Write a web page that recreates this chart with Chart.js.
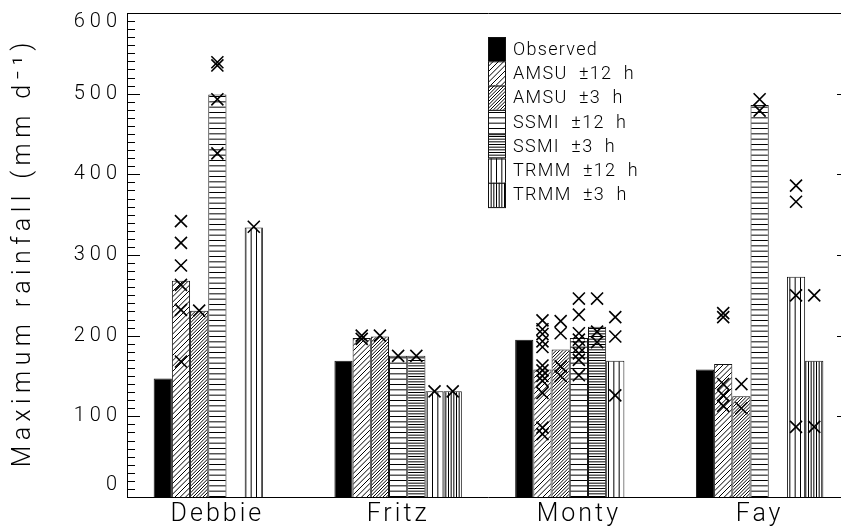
<!DOCTYPE html>
<html>
<head>
<meta charset="utf-8">
<script src="https://cdn.jsdelivr.net/npm/chart.js@4.4.0/dist/chart.umd.min.js"></script>
<style>
  html, body { margin: 0; padding: 0; background: #fff; overflow: hidden; }
  #wrap { width: 841px; height: 529px; overflow: hidden; position: relative; }
  #c { position: absolute; left: 0; top: 0; }
</style>
</head>
<body>
<div id="wrap"><canvas id="c" width="852" height="529"></canvas></div>
<script>
// Storms and the maximum daily rainfall from each source (mm/day)
const storms = ['Debbie', 'Fritz', 'Monty', 'Fay'];
const seriesNames = ['Observed', 'AMSU  \u00b112  h', 'AMSU  \u00b13  h', 'SSMI  \u00b112  h',
                     'SSMI  \u00b13  h', 'TRMM  \u00b112  h', 'TRMM  \u00b13  h'];
const observed = [147, 169, 195, 158];
const amsu12   = [268, 197, 158, 165];
const amsu3    = [231, 199, 183, 125];
const ssmi12   = [499, 175, 197, 486];
const ssmi3    = [null, 175, 211, null];
const trmm12   = [334, 131, 169, 273];
const trmm3    = [null, 131, null, 169];

// Individual overpass estimates (X marks), per storm, for each satellite series
const amsu12Points = [[342, 315, 287, 263, 232, 168], [200, 196],
                      [219, 208, 202, 193, 186, 163, 157, 150, 144, 129, 86, 78],
                      [228, 223, 140, 126, 113]];
const amsu3Points  = [[231], [200], [218, 203, 162, 150], [140, 110]];
const ssmi12Points = [[539, 535, 493, 426], [175], [246, 226, 203, 195, 186, 178, 170, 151], [493, 479]];
const ssmi3Points  = [[], [175], [246, 205, 192], []];
const trmm12Points = [[335], [131], [223, 199, 126], [386, 366, 250, 87]];
const trmm3Points  = [[], [131], [], [250, 87]];

const yTicks = [0, 100, 200, 300, 400, 500, 600];
const yTitle = 'Maximum rainfall (mm d\u207b\u00b9)';

const FONT = "Roboto, 'DejaVu Sans', sans-serif";
const CAT_PCT = 0.705;

const canvas = document.getElementById('c');
const ctx = canvas.getContext('2d');

// Line-hatch fill patterns
function hatch(tile, n, dir) {
  const c = document.createElement('canvas');
  c.width = tile; c.height = tile;
  const g = c.getContext('2d');
  g.fillStyle = '#fff';
  g.fillRect(0, 0, tile, tile);
  g.strokeStyle = '#000';
  g.lineWidth = 1;
  const step = tile / n;
  g.beginPath();
  if (dir === 'h') {
    for (let i = 0; i < n; i++) { const p = i * step + 0.5; g.moveTo(0, p); g.lineTo(tile, p); }
  } else if (dir === 'v') {
    for (let i = 0; i < n; i++) { const p = i * step + 0.5; g.moveTo(p, 0); g.lineTo(p, tile); }
  } else {
    for (let i = -n; i <= 2 * n; i++) {
      const c0 = i * step;
      g.moveTo(-2, c0 + 2); g.lineTo(tile + 2, c0 - tile - 2);
    }
  }
  g.stroke();
  return ctx.createPattern(c, 'repeat');
}

const fills = [
  '#000',
  hatch(16, 3, 'd'),
  hatch(10, 3, 'd'),
  hatch(16, 3, 'h'),
  hatch(8, 3, 'h'),
  hatch(16, 3, 'v'),
  hatch(8, 3, 'v')
];
const barSeries = [observed, amsu12, amsu3, ssmi12, ssmi3, trmm12, trmm3];
const pointSeries = [null, amsu12Points, amsu3Points, ssmi12Points, ssmi3Points, trmm12Points, trmm3Points];

const datasets = barSeries.map((vals, k) => ({
  label: seriesNames[k],
  data: vals,
  backgroundColor: fills[k],
  borderColor: '#111',
  borderWidth: 1,
  borderSkipped: 'start',
  categoryPercentage: CAT_PCT,
  barPercentage: 1
}));

// X marks: drawn over each series' bar slot at the estimate's value
const marks = {
  id: 'marks',
  afterDatasetsDraw(chart) {
    const c = chart.ctx;
    const y = chart.scales.y;
    c.save();
    c.strokeStyle = '#000';
    c.fillStyle = '#000';
    c.lineWidth = 1.6;
    pointSeries.forEach((groups, k) => {
      if (!groups) return;
      const meta = chart.getDatasetMeta(k);
      groups.forEach((vals, g) => {
        const bx = meta.data[g].x;
        vals.forEach(v => {
          Chart.helpers.drawPoint(c, { pointStyle: 'crossRot', radius: 8.5, borderWidth: 1.6 }, bx, y.getPixelForValue(v));
        });
      });
    });
    c.restore();
  }
};

// Axis frame with inward major/minor ticks, y labels, axis title and the stacked legend
const frame = {
  id: 'frame',
  afterDatasetsDraw(chart) {
    const { ctx: c, chartArea: a } = chart;
    const y = chart.scales.y;
    c.save();
    c.strokeStyle = '#000';
    c.lineWidth = 1;
    c.beginPath();
    c.moveTo(a.left + 0.5, a.bottom + 0.5); c.lineTo(a.left + 0.5, a.top + 0.5);
    c.lineTo(a.right - 0.5, a.top + 0.5); c.lineTo(a.right - 0.5, a.bottom + 0.5);
    c.lineTo(a.left + 0.5, a.bottom + 0.5);
    for (let v = 0; v <= 600; v += 10) {
      const py = Math.round(y.getPixelForValue(v)) + 0.5;
      const len = v % 100 === 0 ? 13 : 8;
      c.moveTo(a.left, py); c.lineTo(a.left + len, py);
      c.moveTo(a.right, py); c.lineTo(a.right - len, py);
    }
    c.stroke();

    c.fillStyle = '#000';
    c.font = '300 20px ' + FONT;
    c.letterSpacing = '5px';
    c.textAlign = 'right';
    c.textBaseline = 'middle';
    yTicks.forEach(v => {
      let py = y.getPixelForValue(v);
      py = Math.min(Math.max(py, a.top + 9), a.bottom - 12);
      c.fillText(String(v), a.left - 5, py);
    });

    // rotated axis title, centred on the plot height
    c.save();
    c.translate(24, (a.top + a.bottom) / 2);
    c.rotate(-Math.PI / 2);
    c.font = '300 25px ' + FONT;
    c.letterSpacing = '5.4px';
    c.textAlign = 'center';
    c.fillText(yTitle, 2.7, 0);
    c.restore();

    // legend
    const lx = 488, ly = 37, bw = 18, bh = 24.3;
    c.font = '300 18px ' + FONT;
    c.letterSpacing = '1.3px';
    c.textAlign = 'left';
    barSeries.forEach((_, k) => {
      const top = ly + k * bh;
      c.fillStyle = fills[k];
      c.fillRect(lx, top, bw, bh);
      c.strokeStyle = '#111';
      c.strokeRect(lx + 0.5, top + 0.5, bw - 1, bh);
      c.fillStyle = '#000';
      c.fillText(seriesNames[k], lx + 25, top + bh / 2 + 1);
    });
    c.restore();
  }
};

// Spacing for the storm names drawn by the category axis
const spacing = {
  id: 'spacing',
  beforeDraw(chart) { chart.ctx.letterSpacing = '3px'; }
};

new Chart(canvas, {
  type: 'bar',
  data: { labels: storms, datasets },
  options: {
    responsive: false,
    animation: false,
    events: [],
    layout: { padding: { left: 0, right: 2, top: 13, bottom: 0 } },
    plugins: { legend: { display: false }, tooltip: { enabled: false } },
    scales: {
      x: {
        type: 'category',
        offset: true,
        grid: { display: false, drawTicks: false },
        border: { display: false },
        ticks: { color: '#000', font: { family: FONT, size: 25, weight: '300' }, padding: 3, maxRotation: 0 },
        afterFit(s) { s.height = 32; }
      },
      y: {
        min: 0, max: 600,
        grid: { display: false },
        border: { display: false },
        ticks: { display: false, stepSize: 100 },
        title: { display: false, text: yTitle },
        afterFit(s) { s.width = 127; }
      }
    }
  },
  plugins: [spacing, marks, frame]
});
</script>
</body>
</html>
